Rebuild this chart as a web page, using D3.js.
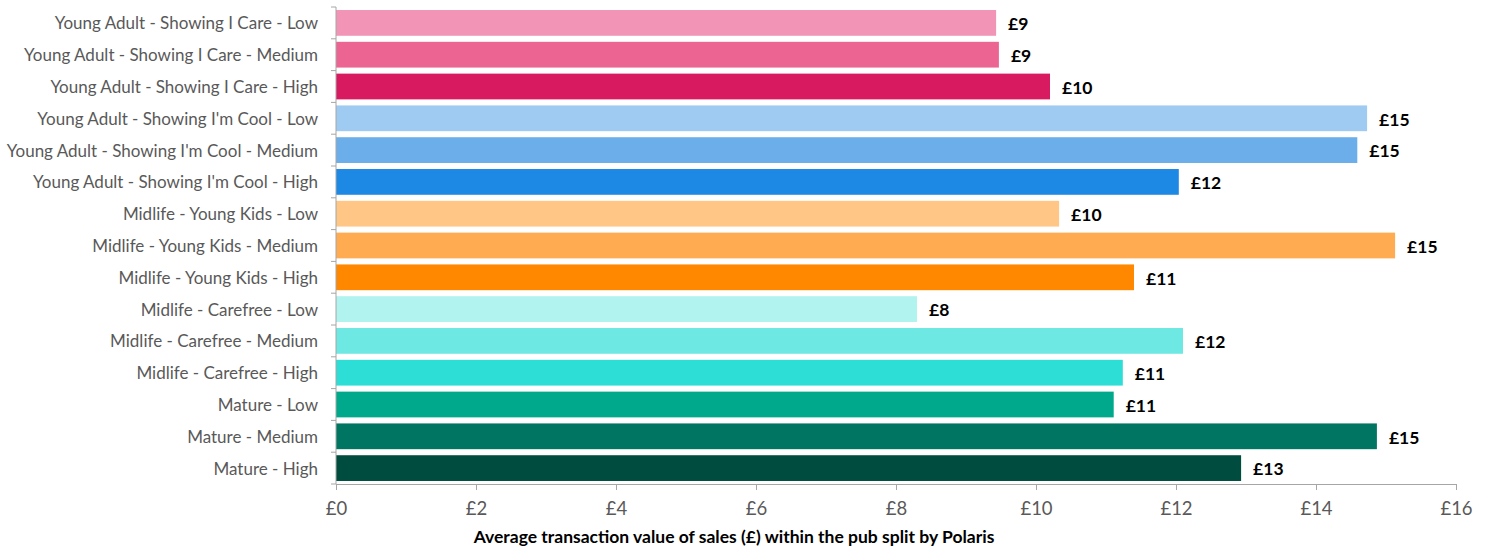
<!DOCTYPE html>
<html>
<head>
<meta charset="utf-8">
<script src="https://cdn.jsdelivr.net/npm/d3@7"></script>
<style>
  body { margin: 0; background: #fff; }
  svg text { font-family: Lato, "Open Sans", sans-serif; }
</style>
</head>
<body>
<div id="chart"></div>
<script>
// categories, top to bottom
const segments = [
    "Young Adult - Showing I Care - Low",
    "Young Adult - Showing I Care - Medium",
    "Young Adult - Showing I Care - High",
    "Young Adult - Showing I'm Cool - Low",
    "Young Adult - Showing I'm Cool - Medium",
    "Young Adult - Showing I'm Cool - High",
    "Midlife - Young Kids - Low",
    "Midlife - Young Kids - Medium",
    "Midlife - Young Kids - High",
    "Midlife - Carefree - Low",
    "Midlife - Carefree - Medium",
    "Midlife - Carefree - High",
    "Mature - Low",
    "Mature - Medium",
    "Mature - High"
];

// average transaction value (£)
const avgValue = [9.43, 9.47, 10.2, 14.73, 14.59, 12.04, 10.33, 15.13, 11.4, 8.3, 12.1, 11.24, 11.11, 14.87, 12.93];

const barColors = [
    "#F294B5", "#EC6592", "#D81B60",
    "#9FCBF3", "#6CAEEA", "#1E88E5",
    "#FFC685", "#FFAB52", "#FF8800",
    "#B1F3EF", "#6DE8E2", "#2CDED5",
    "#00A88C", "#007561", "#004D40"
];

const xTicks = [0, 2, 4, 6, 8, 10, 12, 14, 16];
const xTitle = "Average transaction value of sales (£) within the pub split by Polaris";

const data = segments.map((s, i) => ({ name: s, value: avgValue[i], color: barColors[i] }));

const W = 1490, H = 550;
const margin = { top: 7, right: 34, bottom: 66, left: 336 };
const width = W - margin.left - margin.right;
const height = H - margin.top - margin.bottom;

const svg = d3.select("#chart").append("svg")
    .attr("width", W)
    .attr("height", H)
    .append("g")
    .attr("transform", `translate(${margin.left},${margin.top})`);

const x = d3.scaleLinear().domain([0, 16]).range([0, width]);
const y = d3.scaleBand().domain(segments).range([0, height]).paddingInner(0.19).paddingOuter(0.095);

// bars
svg.selectAll(".bar")
    .data(data)
    .enter().append("rect")
    .attr("class", "bar")
    .attr("x", 0)
    .attr("y", d => y(d.name))
    .attr("width", d => x(d.value))
    .attr("height", y.bandwidth())
    .attr("fill", d => d.color);

// value labels
svg.selectAll(".val")
    .data(data)
    .enter().append("text")
    .attr("class", "val")
    .attr("x", d => x(d.value) + 12)
    .attr("y", d => y(d.name) + y.bandwidth() / 2)
    .attr("dy", "0.42em")
    .attr("font-size", 17.5)
    .attr("font-weight", "bold")
    .attr("fill", "#000")
    .text(d => "£" + Math.round(d.value));

// y axis: category labels and ticks at band edges
const yAxis = svg.append("g");
yAxis.append("line")
    .attr("x1", 0).attr("x2", 0)
    .attr("y1", 0).attr("y2", height)
    .attr("stroke", "#a6a6a6");
yAxis.selectAll(".ytick")
    .data(d3.range(segments.length + 1))
    .enter().append("line")
    .attr("x1", -5).attr("x2", 0)
    .attr("y1", i => i * height / segments.length)
    .attr("y2", i => i * height / segments.length)
    .attr("stroke", "#a6a6a6");
yAxis.selectAll(".ylab")
    .data(segments)
    .enter().append("text")
    .attr("x", -18)
    .attr("y", d => y(d) + y.bandwidth() / 2)
    .attr("dy", "0.38em")
    .attr("text-anchor", "end")
    .attr("font-size", 17)
    .attr("fill", "#595959")
    .text(d => d);

// x axis
const xAxis = svg.append("g")
    .attr("transform", `translate(0,${height})`)
    .call(d3.axisBottom(x).tickValues(xTicks).tickSize(6).tickPadding(12).tickFormat(d => "£" + d));
xAxis.select(".domain").attr("stroke", "#a6a6a6");
xAxis.selectAll(".tick line").attr("stroke", "#a6a6a6");
xAxis.selectAll(".tick text")
    .attr("font-size", 18.5)
    .attr("fill", "#595959");

svg.append("text")
    .attr("x", 398)
    .attr("y", height + 59)
    .attr("text-anchor", "middle")
    .attr("font-size", 17.5)
    .attr("font-weight", "bold")
    .attr("fill", "#000")
    .text(xTitle);
</script>
</body>
</html>
